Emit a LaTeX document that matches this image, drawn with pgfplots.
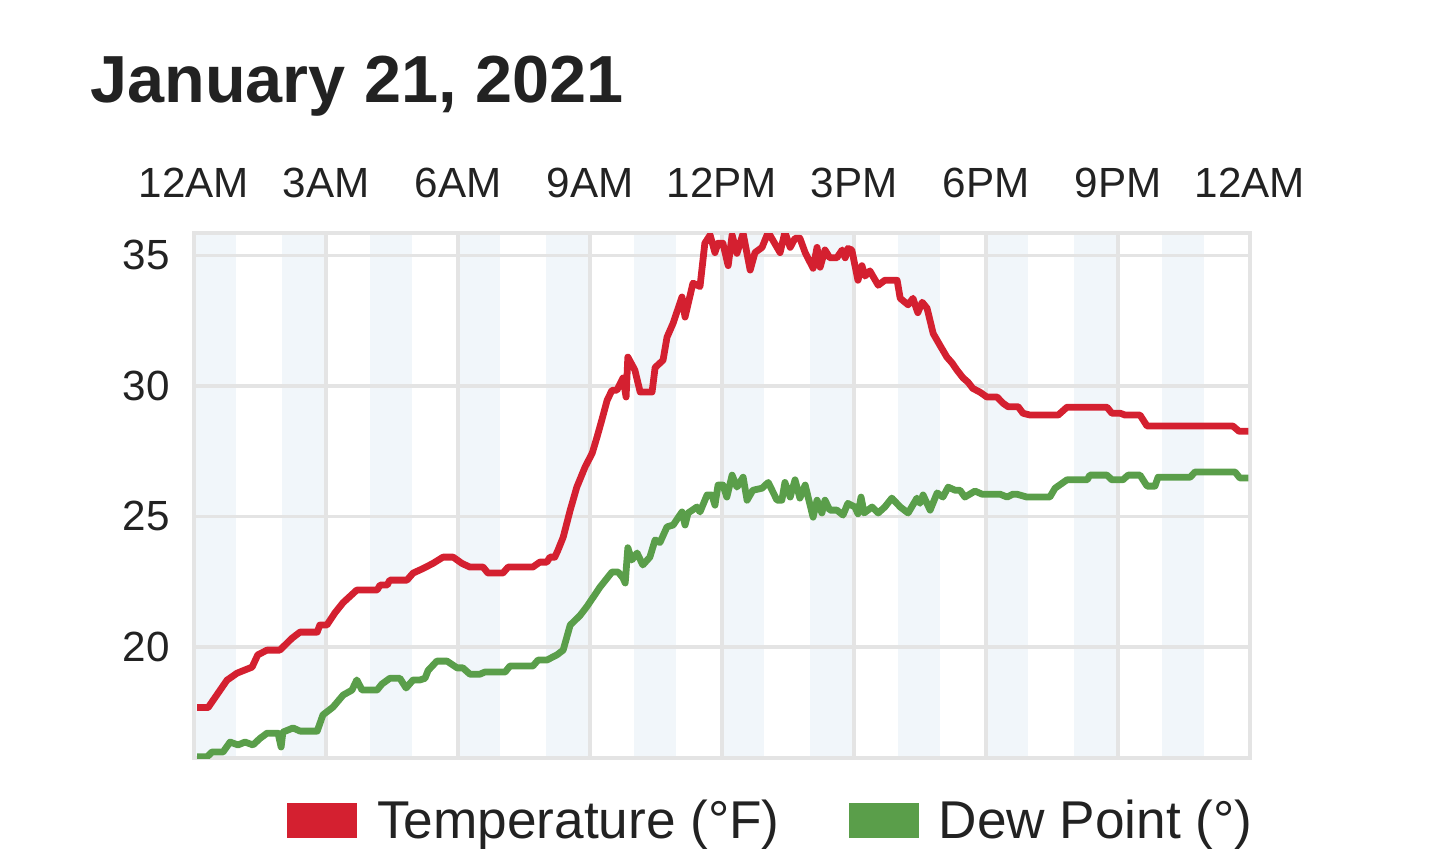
\documentclass[border=0pt]{standalone}
\usepackage{fontspec}
\setmainfont{Liberation Sans}
\usepackage{pgfplots}
\pgfplotsset{compat=1.18}
\definecolor{tred}{HTML}{D42030}
\definecolor{tgreen}{HTML}{5A9E4A}
\definecolor{band}{HTML}{F1F6FA}
\definecolor{gridc}{HTML}{E4E4E4}
\definecolor{txt}{HTML}{222222}
\begin{document}
\begin{tikzpicture}
\node[anchor=base west, inner sep=0pt, text=txt, font=\fontsize{33.3pt}{40pt}\selectfont\bfseries] at (45pt,372.5pt) {January 21, 2021};
\begin{axis}[
  at={(97pt,45pt)}, anchor=south west,
  width=528pt, height=262.5pt, scale only axis,
  xmin=0, xmax=24, ymin=15.75, ymax=35.85,
  set layers,
  xtick={0,3,...,24},
  xticklabels={12AM,3AM,6AM,9AM,12PM,3PM,6PM,9PM,12AM},
  xticklabel pos=right,
  ytick={20,25,30,35}, yticklabels={20,25,30,35},
  major tick length=0pt,
  tick style={draw=none},
  grid=major,
  grid style={draw=gridc, line width=1.7pt},
  axis line style={draw=gridc, line width=1.7pt},
  xticklabel style={anchor=base, inner sep=0pt, yshift=17.5pt, text=txt, font=\fontsize{21.1pt}{25pt}\selectfont},
  yticklabel style={anchor=east, inner sep=0pt, xshift=-12pt, text=txt, font=\fontsize{21.1pt}{25pt}\selectfont},
  legend style={draw=none, fill=none, inner sep=0pt, outer sep=0pt,
    at={(axis description cs:0.0881,-0.0838)}, anchor=north west,
    legend columns=2, font=\fontsize{26.6pt}{30pt}\selectfont, text=txt,
    cells={anchor=west},
    nodes={inner sep=0pt, text height=18pt, text depth=0pt},
    /tikz/every odd column/.append style={column sep=10pt},
    /tikz/every even column/.append style={column sep=34.5pt}},
  legend image code/.code={\fill[#1, draw=none] (0pt,-8.75pt) rectangle (35pt,8.75pt);},
]
\addplot[const plot, fill=band, draw=none, forget plot, on layer=axis background] coordinates {
(0,35.85) (0.95,15.75) (2,35.85) (2.95,15.75) (4,35.85) (4.95,15.75) (6,35.85) (6.95,15.75)
(8,35.85) (8.95,15.75) (10,35.85) (10.95,15.75) (12,35.85) (12.95,15.75) (14,35.85) (14.95,15.75)
(16,35.85) (16.95,15.75) (18,35.85) (18.95,15.75) (20,35.85) (20.95,15.75) (22,35.85) (22.95,15.75) (24,15.75)
} \closedcycle;
\addplot[color=tred, line width=3.4pt, line join=round] coordinates {
(0.07,17.68) (0.32,17.68) (0.75,18.73) (0.98,19.0) (1.32,19.23) (1.45,19.7) (1.66,19.88) (1.95,19.88)
(2.23,20.34) (2.41,20.57) (2.80,20.57) (2.86,20.84) (3.02,20.84) (3.20,21.3) (3.39,21.7) (3.70,22.18)
(4.16,22.18) (4.23,22.37) (4.39,22.37) (4.45,22.56) (4.84,22.56) (4.98,22.83) (5.20,23.0) (5.43,23.2)
(5.66,23.44) (5.89,23.44) (6.09,23.2) (6.27,23.06) (6.57,23.06) (6.68,22.83) (7.02,22.83) (7.14,23.06)
(7.70,23.06) (7.86,23.25) (8.02,23.25) (8.09,23.44) (8.20,23.44) (8.27,23.7) (8.39,24.2) (8.55,25.24)
(8.70,26.12) (8.89,26.9) (9.05,27.42) (9.16,28.04) (9.27,28.7) (9.39,29.45) (9.50,29.83) (9.61,29.83)
(9.75,30.3) (9.82,29.57) (9.86,31.1) (10.02,30.6) (10.14,29.76) (10.41,29.76) (10.48,30.7) (10.66,30.98)
(10.75,31.86) (10.89,32.4) (11.09,33.4) (11.16,32.63) (11.34,33.93) (11.50,33.8) (11.61,35.46) (11.73,35.77)
(11.84,35.1) (11.91,35.46) (12.02,35.46) (12.14,34.6) (12.23,35.77) (12.34,35.07) (12.48,35.84) (12.64,34.43)
(12.75,35.1) (12.91,35.3) (13.05,35.88) (13.32,35.1) (13.43,35.88) (13.55,35.3) (13.66,35.65) (13.77,35.65)
(13.89,35.1) (14.07,34.5) (14.16,35.3) (14.23,34.54) (14.34,35.2) (14.45,34.9) (14.61,34.9) (14.73,35.2)
(14.80,34.9) (14.86,35.26) (14.95,35.2) (15.09,34.04) (15.18,34.6) (15.25,34.2) (15.36,34.4) (15.55,33.85)
(15.70,34.04) (15.98,34.04) (16.05,33.35) (16.23,33.1) (16.34,33.35) (16.45,32.8) (16.55,33.2) (16.66,32.97)
(16.80,32.0) (16.95,31.56) (17.11,31.1) (17.23,30.87) (17.34,30.6) (17.48,30.3) (17.59,30.14) (17.70,29.9)
(17.86,29.76) (18.02,29.57) (18.25,29.57) (18.39,29.33) (18.50,29.2) (18.73,29.2) (18.84,28.95) (19.00,28.88)
(19.64,28.88) (19.84,29.18) (20.75,29.18) (20.86,28.95) (21.05,28.95) (21.16,28.88) (21.50,28.88) (21.66,28.46)
(23.61,28.46) (23.75,28.26) (23.96,28.26)
};
\addlegendentry{Temperature (°F)}
\addplot[color=tgreen, line width=3.4pt, line join=round] coordinates {
(0.07,15.8) (0.30,15.8) (0.41,15.98) (0.66,15.98) (0.82,16.36) (1.00,16.25) (1.16,16.36) (1.34,16.25)
(1.50,16.5) (1.66,16.7) (1.91,16.7) (1.98,16.17) (2.02,16.74) (2.25,16.9) (2.41,16.78) (2.80,16.78)
(2.93,17.4) (3.16,17.7) (3.39,18.16) (3.59,18.35) (3.70,18.74) (3.82,18.35) (4.16,18.35) (4.27,18.58)
(4.45,18.8) (4.68,18.8) (4.82,18.43) (4.98,18.74) (5.14,18.74) (5.25,18.8) (5.32,19.1) (5.52,19.46)
(5.75,19.46) (5.98,19.2) (6.11,19.2) (6.27,18.96) (6.50,18.96) (6.61,19.04) (7.07,19.04) (7.18,19.27)
(7.70,19.27) (7.82,19.5) (8.02,19.5) (8.25,19.7) (8.39,19.88) (8.55,20.84) (8.77,21.2) (8.93,21.55)
(9.23,22.3) (9.50,22.87) (9.64,22.87) (9.75,22.64) (9.80,22.45) (9.86,23.8) (9.95,23.33) (10.07,23.6)
(10.20,23.14) (10.36,23.44) (10.48,24.1) (10.59,24.0) (10.75,24.6) (10.89,24.67) (11.09,25.17) (11.16,24.67)
(11.23,25.13) (11.43,25.36) (11.50,25.17) (11.66,25.82) (11.77,25.82) (11.84,25.43) (11.91,26.2) (12.02,26.2)
(12.11,25.74) (12.23,26.58) (12.34,26.12) (12.48,26.5) (12.57,25.62) (12.70,26.0) (12.91,26.08) (13.05,26.3)
(13.25,25.62) (13.36,25.62) (13.43,26.3) (13.55,25.74) (13.66,26.4) (13.77,25.7) (13.89,26.2) (14.07,24.97)
(14.16,25.62) (14.27,25.13) (14.34,25.62) (14.45,25.24) (14.61,25.24) (14.75,25.05) (14.86,25.5) (15.02,25.36)
(15.09,25.1) (15.16,25.74) (15.23,25.13) (15.41,25.36) (15.55,25.13) (15.70,25.36) (15.86,25.7) (16.05,25.36)
(16.23,25.13) (16.43,25.7) (16.50,25.5) (16.57,25.82) (16.73,25.24) (16.89,25.9) (17.02,25.74) (17.14,26.12)
(17.30,26.0) (17.41,26.0) (17.52,25.74) (17.75,25.97) (17.91,25.85) (18.32,25.85) (18.48,25.74) (18.61,25.85)
(18.70,25.85) (18.93,25.74) (19.45,25.74) (19.57,26.08) (19.84,26.4) (20.30,26.4) (20.36,26.58) (20.75,26.58)
(20.86,26.4) (21.11,26.4) (21.23,26.58) (21.50,26.58) (21.66,26.16) (21.84,26.16) (21.91,26.5) (22.64,26.5)
(22.75,26.7) (23.66,26.7) (23.77,26.47) (23.96,26.47)
};
\addlegendentry{Dew Point (°)}
\end{axis}
\pgfresetboundingbox
\path[use as bounding box] (0,0) rectangle (720pt,424pt);
\end{tikzpicture}
\end{document}
